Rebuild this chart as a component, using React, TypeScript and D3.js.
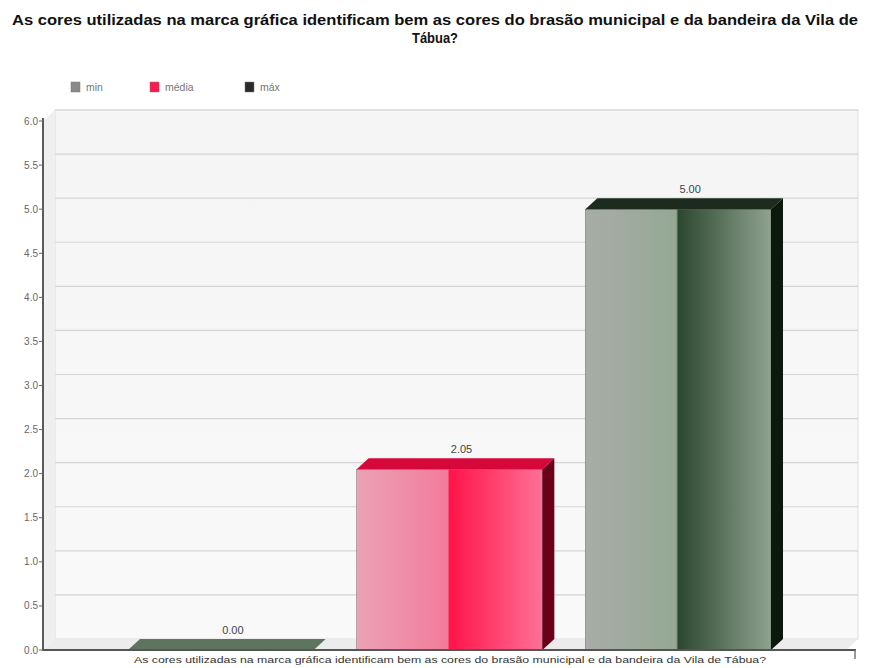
import React from "react";
import * as d3 from "d3";

const title1 = "As cores utilizadas na marca gráfica identificam bem as cores do brasão municipal e da bandeira da Vila de";
const title2 = "Tábua?";
const categoryLabel = "As cores utilizadas na marca gráfica identificam bem as cores do brasão municipal e da bandeira da Vila de Tábua?";
const series = ["min", "média", "máx"];
const values = [0.0, 2.05, 5.0];
const legendColors = ["#8a8a8a", "#ff1a4d", "#2a2a2a"];
const yTicks = [0, 0.5, 1, 1.5, 2, 2.5, 3, 3.5, 4, 4.5, 5, 5.5, 6];

const W = 870;
const H = 668;
const DX = 12;
const DY = -11;

const faceStyles = [
  { id: "gMin", stops: ["#8a9a8a", "#7a8a7a", "#4a6a4e", "#8a9c8a"], top: "#5d745f", side: "#1c2e1e" },
  { id: "gMed", stops: ["#eba2b5", "#f27b9b", "#ff1449", "#ff7097"], top: "#d6073a", side: "#6a0019" },
  { id: "gMax", stops: ["#a9aca8", "#94a894", "#2c4730", "#8fa38f"], top: "#1c2b1e", side: "#0b180c" },
];

export default function App() {
  const y = d3.scaleLinear().domain([0, 6]).range([650, 121]);
  const x = d3.scaleBand<string>().domain(series).range([128, 771]).paddingInner(0.188);
  const y0 = y(0);
  const left = 43;
  const right = 858;
  const wallTop = y(6) + DY;

  const pts = (arr: [number, number][]) => arr.map((p) => p.join(",")).join(" ");

  return (
    <div style={{ position: "absolute", left: 0, top: 0, background: "#fff" }}>
      <svg width={W} height={H} style={{ display: "block" }} fontFamily="'Liberation Sans', Arial, sans-serif">
        <defs>
          {faceStyles.map((f) => (
            <linearGradient key={f.id} id={f.id} x1="0" y1="0" x2="1" y2="0">
              <stop offset="0" stopColor={f.stops[0]} />
              <stop offset="0.49" stopColor={f.stops[1]} />
              <stop offset="0.5" stopColor={f.stops[2]} />
              <stop offset="1" stopColor={f.stops[3]} />
            </linearGradient>
          ))}
          <linearGradient id="wall" x1="0" y1="0" x2="0" y2="1">
            <stop offset="0" stopColor="#f5f5f5" />
            <stop offset="1" stopColor="#f9f9f9" />
          </linearGradient>
        </defs>
        <rect x={0} y={0} width={W} height={H} fill="#ffffff" />

        {/* title */}
        <text x={435} y={25} textAnchor="middle" fontSize={15} fontWeight="bold" fill="#111"
          textLength={846} lengthAdjust="spacingAndGlyphs">{title1}</text>
        <text x={435} y={43} textAnchor="middle" fontSize={15} fontWeight="bold" fill="#111"
          textLength={46} lengthAdjust="spacingAndGlyphs">{title2}</text>

        {/* legend */}
        {series.map((s, i) => {
          const lx = [71, 150, 245][i];
          return (
            <g key={s}>
              <rect x={lx} y={82} width={9} height={10} fill={legendColors[i]} stroke="#777" strokeWidth={0.5} />
              <text x={lx + 15} y={91} fontSize={10.5} fill="#777">{s}</text>
            </g>
          );
        })}

        {/* back wall */}
        <rect x={left + DX} y={wallTop} width={right - left - DX} height={y0 - y(6)} fill="url(#wall)" stroke="#dedede" strokeWidth={1} />
        {/* left side wall */}
        <polygon points={pts([[left, y(6)], [left + DX, wallTop], [left + DX, y0 + DY], [left, y0]])} fill="#efefef" />
        {/* floor */}
        <polygon points={pts([[left, y0], [left + DX, y0 + DY], [right, y0 + DY], [right - DX, y0]])} fill="#ececec" />

        {/* gridlines */}
        {yTicks.filter((t) => t > 0).map((t) => (
          <line key={t} x1={left + DX} x2={right} y1={y(t) + DY} y2={y(t) + DY} stroke="#d4d4d4" strokeWidth={1.2} />
        ))}

        {/* bars */}
        {series.map((s, i) => {
          const x0 = x(s)!;
          const x1 = x0 + x.bandwidth();
          const yt = y(values[i]);
          const f = faceStyles[i];
          return (
            <g key={s}>
              {y0 - yt > 0 && (
                <rect x={x0} y={yt} width={x1 - x0} height={y0 - yt} fill={`url(#${f.id})`} stroke="#555" strokeWidth={0.4} />
              )}
              <polygon points={pts([[x0, yt], [x0 + DX, yt + DY], [x1 + DX, yt + DY], [x1, yt]])} fill={f.top} />
              {y0 - yt > 0 && (
                <polygon points={pts([[x1, yt], [x1 + DX, yt + DY], [x1 + DX, y0 + DY], [x1, y0]])} fill={f.side} />
              )}
              <text x={(x0 + x1) / 2 + DX} y={yt + DY - 5} textAnchor="middle" fontSize={11} fill="#444">
                {d3.format(".2f")(values[i])}
              </text>
            </g>
          );
        })}

        {/* y axis */}
        <line x1={left} x2={left} y1={y(6) - 3} y2={y0 + 1} stroke="#333" strokeWidth={1.6} />
        {yTicks.map((t) => (
          <g key={t}>
            <line x1={left - 4} x2={left} y1={y(t)} y2={y(t)} stroke="#666" strokeWidth={1} />
            <text x={left - 5} y={y(t) + 3.5} textAnchor="end" fontSize={10} fill="#666">
              {d3.format(".1f")(t)}
            </text>
          </g>
        ))}

        {/* x axis */}
        <line x1={left} x2={right - 2} y1={y0} y2={y0} stroke="#555" strokeWidth={2} />
        <line x1={right - 3} x2={right - 3} y1={y0} y2={y0 + 9} stroke="#777" strokeWidth={1.5} />
        <text x={450} y={663} textAnchor="middle" fontSize={9.5} fill="#333"
          textLength={632} lengthAdjust="spacingAndGlyphs">{categoryLabel}</text>
      </svg>
    </div>
  );
}
